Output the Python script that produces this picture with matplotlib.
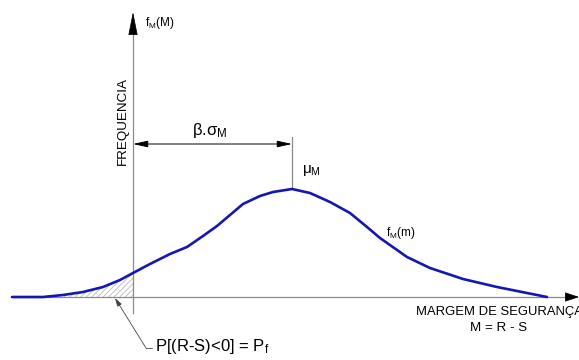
import numpy as np
import matplotlib
matplotlib.use("Agg")
import matplotlib.pyplot as plt

plt.rcParams["font.family"] = ["Liberation Sans", "DejaVu Sans"]
plt.rcParams["mathtext.fontset"] = "custom"
plt.rcParams["mathtext.rm"] = "Liberation Sans"
plt.rcParams["mathtext.it"] = "Liberation Sans"
plt.rcParams["mathtext.sf"] = "Liberation Sans"
plt.rcParams["hatch.linewidth"] = 0.6

# Safety margin M (origin at the frequency axis) and density f_M(m)
margin = [-121, -90, -70, -50, -30, -13, 0, 17, 37, 54, 70, 84, 97, 110,
          127, 140, 159, 177, 197, 217, 234, 247, 274, 297, 330, 364, 414]
density = [0, 0, 2, 5, 10, 17, 24, 33, 43, 50, 61, 71, 82, 93,
           101, 105, 108, 104, 95, 84, 70, 59, 40, 29, 18, 10, 0]
mu_M = 158
hatch_from = -70

AXIS_GRAY = "#8a8a8a"
CURVE_BLUE = "#1616b2"

fig = plt.figure(figsize=(5.79, 3.6), dpi=100)
ax = fig.add_axes([0, 0, 1, 1])
ax.set_xlim(-133, 446)
ax.set_ylim(-63, 297)
ax.axis("off")

m = np.array(margin, dtype=float)
f = np.array(density, dtype=float)

# axes lines
ax.plot([-120, 438], [0, 0], color=AXIS_GRAY, lw=0.9, zorder=1)
ax.plot([0, 0], [-16, 270], color=AXIS_GRAY, lw=0.9, zorder=1)
ax.annotate("", xy=(446, 0), xytext=(436, 0),
            arrowprops=dict(arrowstyle="-|>,head_length=0.9,head_width=0.3",
                            color="black", lw=0.5, shrinkA=0, shrinkB=0))
ax.annotate("", xy=(0, 285), xytext=(0, 268),
            arrowprops=dict(arrowstyle="-|>,head_length=1.5,head_width=0.3",
                            color="black", lw=0.5, shrinkA=0, shrinkB=0))

# probability of failure area
sel = (m >= hatch_from) & (m <= 0)
ax.fill_between(m[sel], 0, f[sel], facecolor="none", edgecolor="#b8b8b8",
                hatch="//////", linewidth=0, zorder=2)

# density curve
ax.plot(m, f, color=CURVE_BLUE, lw=1.9, solid_capstyle="round",
        solid_joinstyle="round", zorder=3)

# beta * sigma dimension
ax.plot([mu_M + 1, mu_M + 1], [110, 160], color=AXIS_GRAY, lw=0.9, zorder=1)
ax.annotate("", xy=(mu_M + 1, 153), xytext=(0, 153),
            arrowprops=dict(arrowstyle="<|-|>,head_length=0.9,head_width=0.2",
                            color="black", lw=0.7, shrinkA=0, shrinkB=0))
ax.text(77, 166, r"$\beta$.$\sigma_{\mathrm{M}}$", fontsize=12, ha="center", va="center")
ax.text(169, 127, r"$\mu_{\mathrm{M}}$", fontsize=11, ha="left", va="center")

# labels
ax.text(12, 274, r"$\mathrm{f_M(M)}$", fontsize=8.5, ha="left", va="center")
ax.text(-10, 176, "FREQUENCIA", fontsize=9.6, rotation=90, ha="center", va="center")
ax.text(253, 64, r"$\mathrm{f_M(m)}$", fontsize=8.5, ha="left", va="center")
ax.text(366, -15, "MARGEM DE SEGURANÇA", fontsize=9.4, ha="center", va="center")
ax.text(366, -31, "M = R - S", fontsize=9.6, ha="center", va="center")

# leader to the failure probability
ax.annotate("", xy=(-18, -1), xytext=(13, -51),
            arrowprops=dict(arrowstyle="-|>,head_length=0.5,head_width=0.15",
                            color="#444444", lw=0.6, shrinkA=0, shrinkB=0))
ax.plot([13, 19], [-51, -51], color="#444444", lw=0.6)
ax.text(22, -50, r"P[(R-S)<0] = P$_{\mathrm{f}}$", fontsize=12, ha="left", va="center")

fig.savefig("out.png", dpi=100)
